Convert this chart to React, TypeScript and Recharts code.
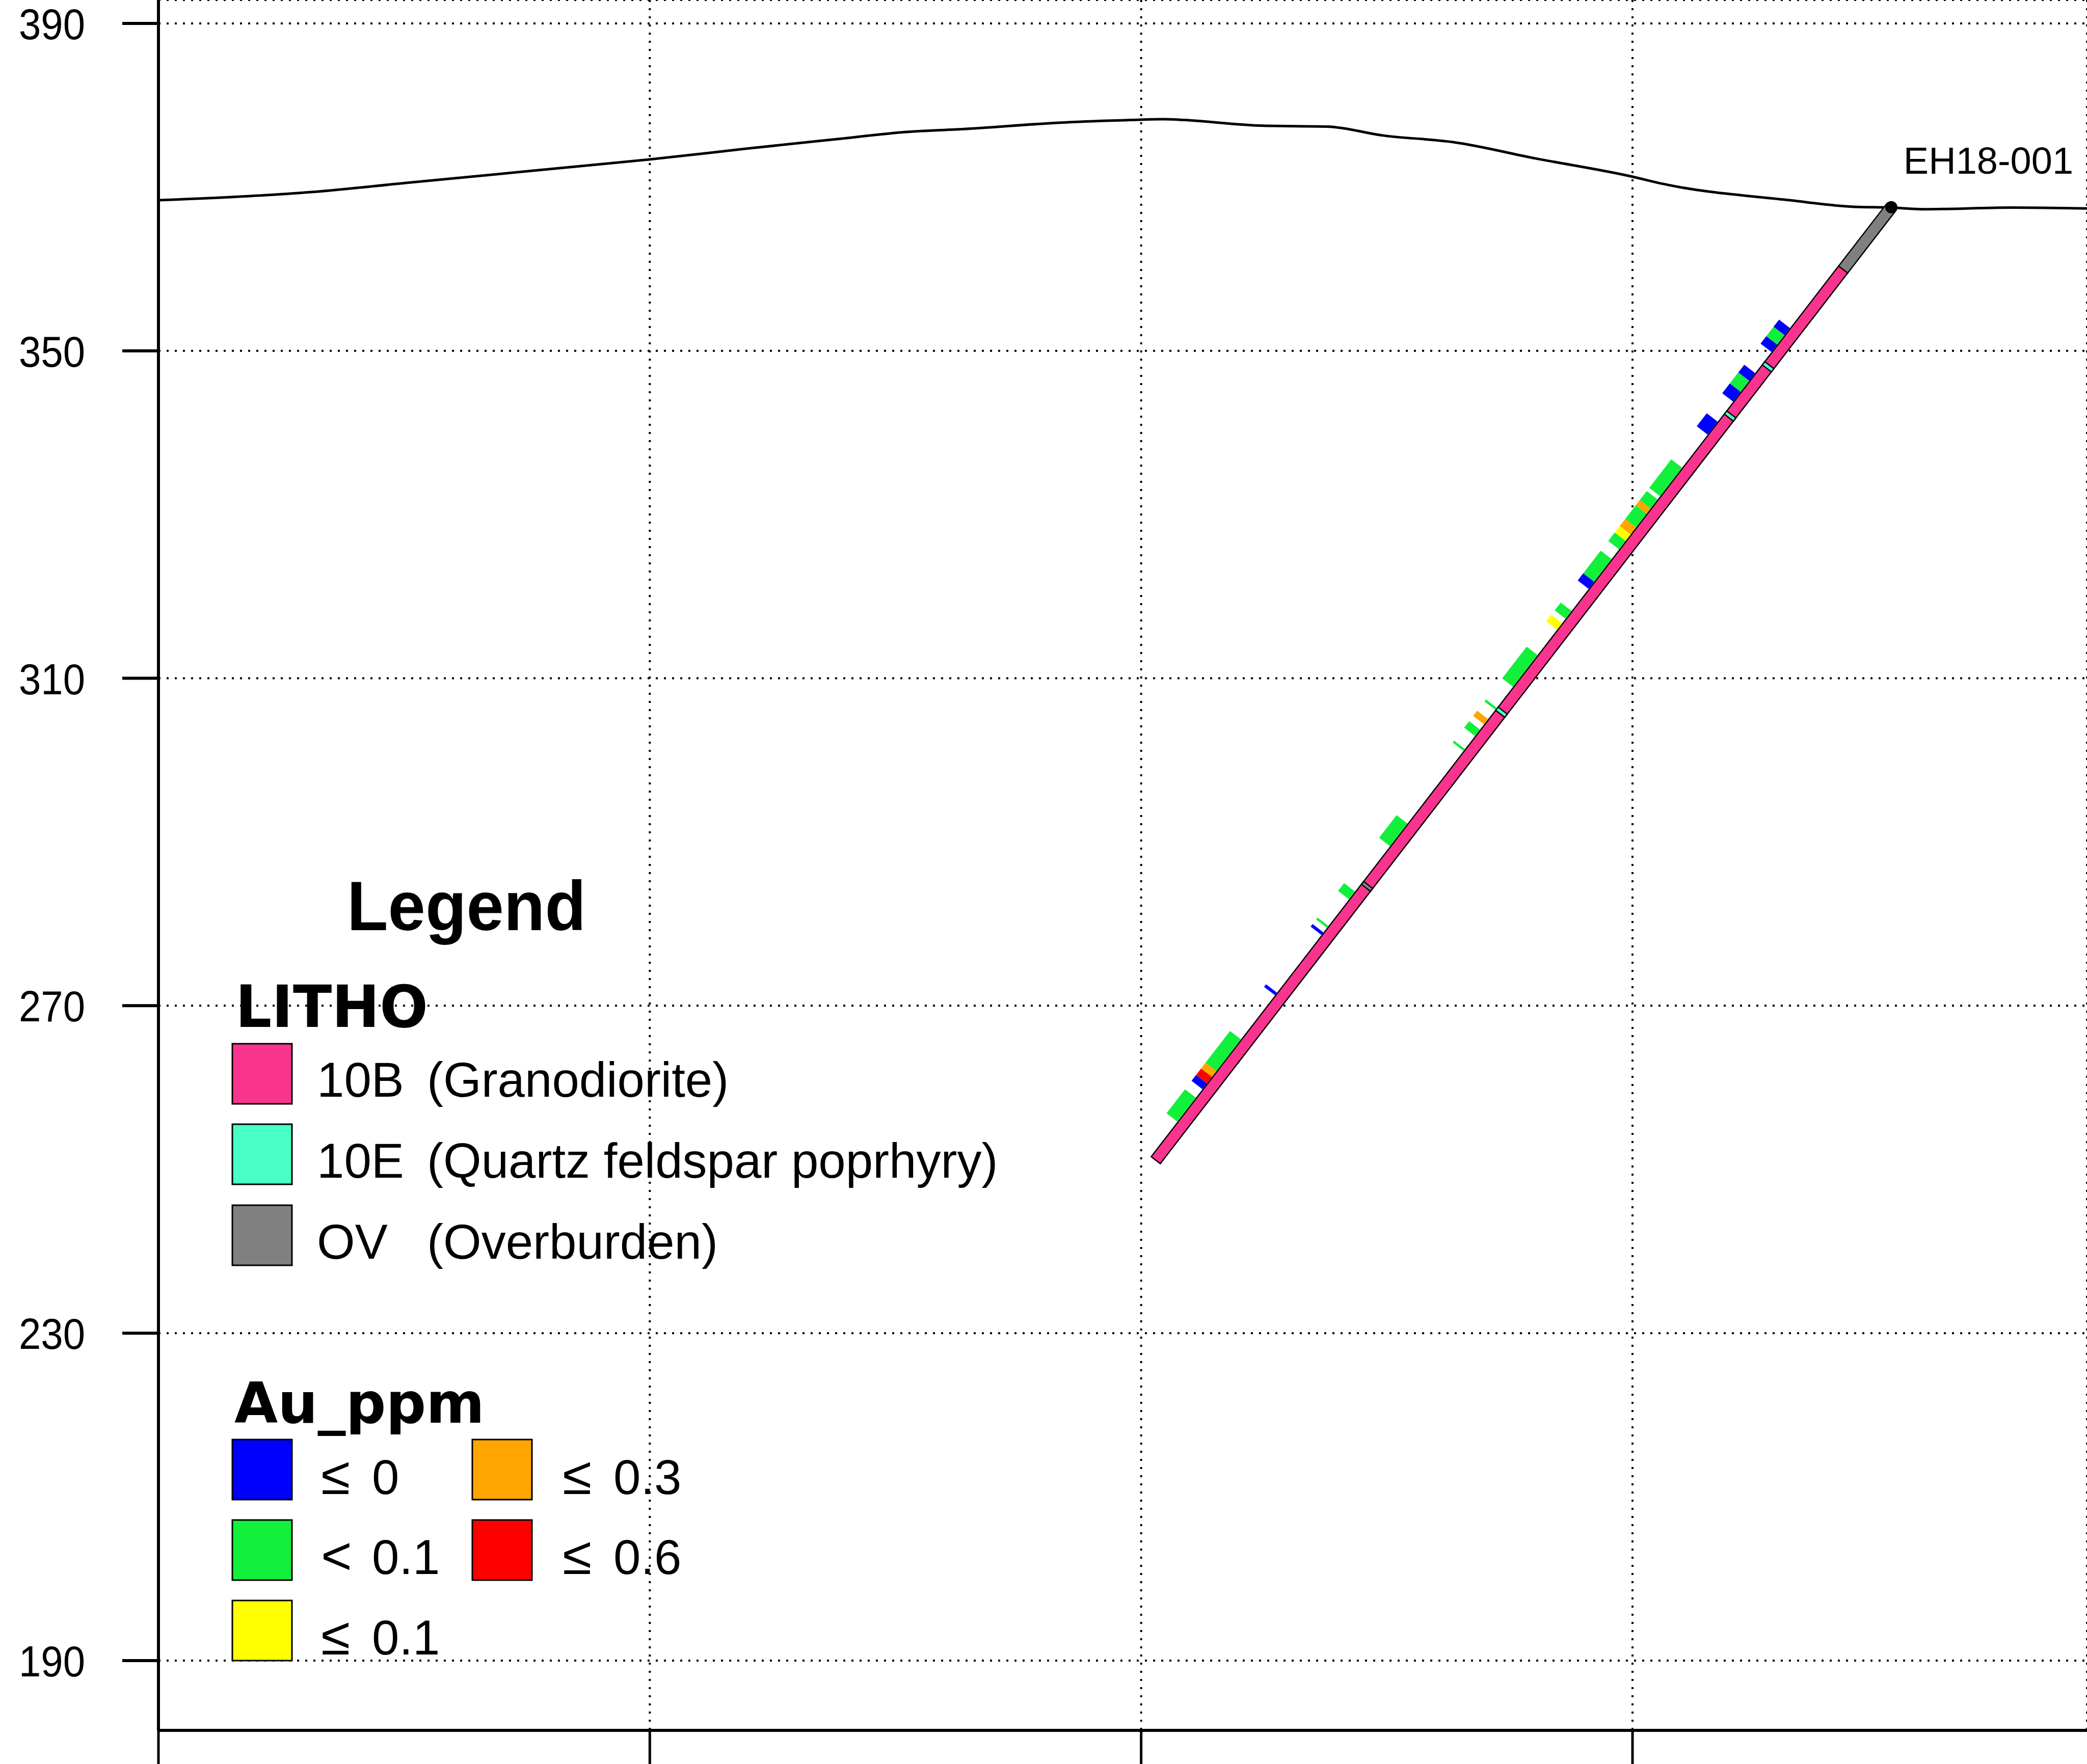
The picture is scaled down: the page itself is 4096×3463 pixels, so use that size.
import React from 'react';
import {
  ComposedChart,
  XAxis,
  YAxis,
  CartesianGrid,
  Line,
  ReferenceLine,
  ReferenceDot,
  Label,
  Customized,
} from 'recharts';

// ------------------------------------------------------------------ data
const sectionTicks = [0, 60, 120, 180];
const elevationTicks = [190, 230, 270, 310, 350, 390];
const sectionDomain = [0, 235.5];
const elevationDomain = [181.47, 392.86];

// topographic surface along the section (distance, elevation)
const topoDistance = [0, 11.1, 18.7, 30.1, 41.5, 52.9, 60.1, 71.8, 83.2, 90.8, 98.4, 110.6, 118.8, 122.5, 134.9, 142.7, 149.6, 158.1, 168.2, 179.9, 183.7, 199.2, 207.0, 211.6, 215.5, 226.3, 235.5];
const topoElevation = [368.4, 368.9, 369.4, 370.5, 371.6, 372.7, 373.4, 374.7, 375.9, 376.7, 377.1, 377.9, 378.2, 378.3, 377.5, 377.4, 376.3, 375.5, 373.5, 371.3, 370.4, 368.4, 367.6, 367.5, 367.3, 367.5, 367.4];

// drill hole
const holeName = 'EH18-001';
const collarDistance = 211.6;
const collarElevation = 367.55;
const holeDip = 52.35; // degrees below horizontal, toward the left of the section
const holeLength = 146.97;

// lithology legend
const lithoCodes = ['10B', '10E', 'OV'];
const lithoNames = ['(Granodiorite)', '(Quartz feldspar poprhyry)', '(Overburden)'];
const lithoColors = ['#F9348F', '#48FFC6', '#808080'];

// lithology intervals down the hole (metres)
const lithoFrom = [0, 9.7, 24.45, 32.05, 77.75, 104.65];
const lithoTo = [9.7, 146.97, 24.8, 32.4, 78.1, 104.95];
const lithoOf = ['OV', '10B', '10E', '10E', '10E', 'OV'];

// Au_ppm classes
const auSymbols = ['≤', '<', '≤', '≤', '≤'];
const auValues = ['0', '0.1', '0.1', '0.3', '0.6'];
const auColors = ['#0000FF', '#12F03C', '#FFFF00', '#FFA500', '#FF0000'];

// Au sample intervals down the hole (metres) and their class index
const auFrom = [19.25, 20.35, 21.8, 26.2, 27.4, 29.1, 33.7, 40.8, 45.7, 47.1, 47.9, 50.0, 51.1, 52.1, 54.9, 58.4, 62.9, 64.8, 69.7, 77.85, 79.6, 81.2, 84.2, 95.7, 106.2, 111.5, 112.5, 121.8, 129.0, 133.9, 134.8, 135.8, 138.0];
const auTo = [20.35, 21.8, 22.95, 27.4, 29.1, 30.6, 35.7, 45.2, 47.1, 47.9, 50.0, 51.1, 52.1, 53.4, 58.4, 59.5, 64.1, 65.8, 74.6, 78.15, 80.4, 82.2, 84.5, 99.2, 107.4, 111.8, 112.9, 122.2, 133.9, 134.8, 135.8, 136.7, 141.7];
const auClass = [0, 1, 0, 0, 1, 0, 0, 1, 1, 3, 1, 3, 2, 1, 1, 0, 1, 2, 1, 1, 3, 1, 1, 1, 1, 1, 0, 0, 1, 3, 4, 0, 1];

// ------------------------------------------------------------------ helpers
const topoData = topoDistance.map((x, i) => ({ x, y: topoElevation[i] }));

const dipRad = (holeDip * Math.PI) / 180;
const downX = -Math.cos(dipRad);
const downY = -Math.sin(dipRad);
const sideX = -Math.sin(dipRad);
const sideY = Math.cos(dipRad);

function holePoint(depth: number, side = 0) {
  return {
    x: collarDistance + downX * depth + sideX * side,
    y: collarElevation + downY * depth + sideY * side,
  };
}

const lithoColor = (code: string) => lithoColors[lithoCodes.indexOf(code)];

// style constants
const W = 4096;
const H = 3463;
const TRACE_OUTLINE = 25;
const TRACE_FILL = 20;
const END_PAD = 0.15;
const BAR_WIDTH = 27;
const BAR_SIDE = 1.62;

const REG = 'Liberation Sans, Arial, sans-serif';
const BOLD_WIDE = 'DejaVu Sans, Verdana, sans-serif';

const EmptyTick = () => <g />;

const ElevTick = (props: any) => {
  const { x, y, payload } = props;
  return (
    <text
      x={x}
      y={y}
      dy={31}
      textAnchor="end"
      fontFamily={REG}
      fontSize={86}
      fill="#000"
      textLength={130}
      lengthAdjust="spacingAndGlyphs"
    >
      {payload.value}
    </text>
  );
};

const CollarLabel = (props: any) => {
  const vb = props.viewBox || {};
  const cx = (vb.x ?? 0) + (vb.width ?? 0) / 2;
  const cy = (vb.y ?? 0) + (vb.height ?? 0) / 2;
  return (
    <text x={cx + 24} y={cy - 66} fontFamily={REG} fontSize={74} fill="#000">
      {holeName}
    </text>
  );
};

const Swatch = ({ x, y, color }: { x: number; y: number; color: string }) => (
  <rect x={x} y={y} width={117} height={118} fill={color} stroke="#000" strokeWidth={3} />
);

const LegendBlock = () => {
  const lithoRowY = [2049, 2207, 2366];
  const lithoBase = [2153, 2312, 2471];
  const auCol = [
    { x: 456, tx: 630 },
    { x: 927, tx: 1104 },
  ];
  const auRowY = [2826, 2984, 3142];
  const auBase = [2933, 3090, 3248];
  const auPos = [
    [0, 0],
    [0, 1],
    [0, 2],
    [1, 0],
    [1, 1],
  ];
  return (
    <g>
      <text
        x={681}
        y={1826}
        fontFamily={REG}
        fontWeight="bold"
        fontSize={138}
        fill="#000"
        textLength={469}
        lengthAdjust="spacingAndGlyphs"
      >
        Legend
      </text>
      <text
        x={462}
        y={2016}
        fontFamily={BOLD_WIDE}
        fontWeight="bold"
        fontSize={114}
        fill="#000"
        textLength={378}
        lengthAdjust="spacingAndGlyphs"
      >
        LITHO
      </text>
      {lithoCodes.map((code, i) => (
        <g key={code}>
          <Swatch x={456} y={lithoRowY[i]} color={lithoColors[i]} />
          <text x={622} y={lithoBase[i]} fontFamily={REG} fontSize={96} fill="#000">
            {code}
          </text>
          <text x={838} y={lithoBase[i]} fontFamily={REG} fontSize={96} fill="#000">
            {lithoNames[i]}
          </text>
        </g>
      ))}
      <text
        x={460}
        y={2793}
        fontFamily={BOLD_WIDE}
        fontWeight="bold"
        fontSize={110}
        fill="#000"
        textLength={491}
        lengthAdjust="spacingAndGlyphs"
      >
        Au_ppm
      </text>
      {auValues.map((val, i) => {
        const [c, r] = auPos[i];
        return (
          <g key={val + i}>
            <Swatch x={auCol[c].x} y={auRowY[r]} color={auColors[i]} />
            <text x={auCol[c].tx} y={auBase[r]} fontFamily={REG} fontSize={104} fill="#000">
              {auSymbols[i]}
            </text>
            <text x={auCol[c].tx + 100} y={auBase[r]} fontFamily={REG} fontSize={96} fill="#000">
              {val}
            </text>
          </g>
        );
      })}
    </g>
  );
};

export default function App() {
  const lithoLines: React.ReactNode[] = [];
  lithoFrom.forEach((from, i) => {
    const to = lithoTo[i];
    lithoLines.push(
      <ReferenceLine
        key={'lo' + i}
        segment={[holePoint(from - END_PAD), holePoint(Math.min(to + END_PAD, holeLength + END_PAD))]}
        stroke="#000"
        strokeWidth={TRACE_OUTLINE}
        ifOverflow="visible"
      />,
    );
    lithoLines.push(
      <ReferenceLine
        key={'lf' + i}
        segment={[holePoint(from), holePoint(to)]}
        stroke={lithoColor(lithoOf[i])}
        strokeWidth={TRACE_FILL}
        ifOverflow="visible"
      />,
    );
  });

  const auLines = auFrom.map((from, i) => (
    <ReferenceLine
      key={'au' + i}
      segment={[holePoint(from, BAR_SIDE), holePoint(auTo[i], BAR_SIDE)]}
      stroke={auColors[auClass[i]]}
      strokeWidth={BAR_WIDTH}
      ifOverflow="visible"
    />
  ));

  return (
    <div style={{ position: 'absolute', left: 0, top: 0, width: W, height: H, background: '#fff' }}>
      <ComposedChart width={W} height={H} margin={{ top: 0, right: 0, bottom: 0, left: 0 }}>
        <CartesianGrid stroke="#000" strokeWidth={4} strokeDasharray="4 12" />
        <XAxis
          type="number"
          dataKey="x"
          domain={sectionDomain}
          allowDataOverflow
          ticks={sectionTicks}
          interval={0}
          tick={EmptyTick}
          tickSize={66}
          height={66}
          axisLine={{ stroke: '#000', strokeWidth: 6 }}
          tickLine={{ stroke: '#000', strokeWidth: 5 }}
        />
        <YAxis
          type="number"
          domain={elevationDomain}
          allowDataOverflow
          ticks={elevationTicks}
          interval={0}
          width={311}
          tickSize={71}
          tickMargin={73}
          tick={<ElevTick />}
          axisLine={{ stroke: '#000', strokeWidth: 6 }}
          tickLine={{ stroke: '#000', strokeWidth: 6 }}
        />
        <Line
          data={topoData}
          dataKey="y"
          type="monotone"
          stroke="#000"
          strokeWidth={5}
          dot={false}
          activeDot={false}
          isAnimationActive={false}
        />
        {lithoLines}
        {auLines}
        <ReferenceDot x={collarDistance} y={collarElevation} r={12} fill="#000" stroke="none" ifOverflow="visible">
          <Label content={<CollarLabel />} />
        </ReferenceDot>
        <Customized component={LegendBlock} />
      </ComposedChart>
    </div>
  );
}
